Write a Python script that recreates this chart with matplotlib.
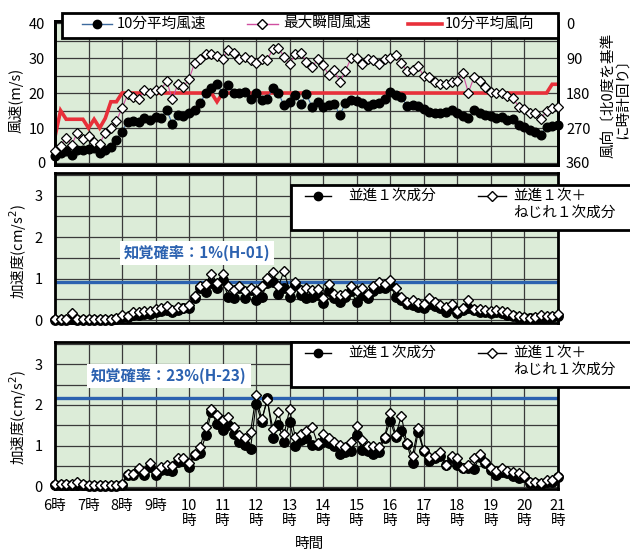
import numpy as np
import matplotlib.pyplot as plt
from matplotlib.patches import Rectangle
from matplotlib.lines import Line2D
from matplotlib.transforms import Affine2D

plt.rcParams['font.family'] = ['Noto Sans CJK JP', 'DejaVu Sans']

# 10-minute samples, 6:00 - 21:00
minutes = np.arange(0, 910, 10)
hours = 6 + minutes / 60

# top panel: wind
wind_speed = [1.9, 2.8, 3.3, 2.4, 3.6, 3.8,
              4.1, 4.3, 3.0, 3.6, 4.7, 6.6,
              9.0, 11.8, 12.0, 11.6, 12.8, 12.3,
              13.1, 12.8, 15.2, 11.1, 13.7, 13.3,
              14.2, 15.2, 17.1, 20.1, 21.5, 22.5,
              19.9, 22.3, 19.9, 20.1, 20.3, 18.3,
              19.9, 18.0, 18.4, 21.3, 19.9, 16.5,
              17.5, 19.4, 16.9, 19.6, 16.1, 17.5,
              15.9, 16.6, 16.9, 13.7, 17.1, 18.0,
              17.8, 17.1, 16.3, 16.9, 17.1, 18.2,
              20.4, 19.4, 19.0, 16.3, 16.6, 16.3,
              15.4, 14.7, 14.2, 14.2, 14.7, 15.2,
              14.2, 13.5, 12.8, 15.2, 14.4, 13.7,
              13.3, 12.8, 13.1, 12.3, 12.5, 10.9,
              10.4, 9.5, 9.0, 8.1, 10.4, 10.6,
              10.9]
gust_speed = [3.3, 5.0, 7.1, 5.2, 8.7, 6.8,
              7.6, 5.9, 5.5, 8.7, 10.0, 12.1,
              15.6, 19.6, 19.0, 18.2, 20.9, 19.9,
              20.9, 21.0, 23.4, 18.2, 22.6, 21.8,
              24.0, 28.6, 29.6, 31.1, 31.1, 30.5,
              29.6, 32.4, 31.3, 29.6, 30.3, 29.4,
              28.6, 29.6, 29.4, 32.7, 33.0, 30.3,
              28.2, 31.1, 31.5, 28.9, 27.3, 29.6,
              28.0, 25.1, 26.5, 23.2, 26.4, 29.9,
              30.1, 28.4, 29.6, 29.4, 28.4, 29.6,
              29.9, 31.0, 28.6, 26.4, 26.5, 27.7,
              24.8, 24.5, 23.2, 22.6, 22.6, 23.2,
              23.4, 25.6, 20.1, 24.5, 23.4, 21.6,
              20.4, 20.1, 20.1, 19.1, 18.5, 16.1,
              15.4, 14.2, 14.2, 12.6, 14.9, 15.6,
              15.9]
wind_dir = ([292.5, 225, 247.5, 247.5, 247.5, 247.5,
             270, 247.5, 270, 245, 202.5, 202.5]
            + [180] * 17 + [202.5] + [180] * 59 + [157.5, 157.5])

# middle panel: building H-01
h01_trans = [0.01, 0.01, 0.01, 0.02, 0.01, 0.01, 0.01, 0.01, 0.01, 0.01, 0.01, 0.02,
             0.07, 0.07, 0.12, 0.12, 0.14, 0.14,
             0.19, 0.22, 0.24, 0.20, 0.24, 0.28,
             0.30, 0.52, 0.77, 0.67, 0.90, 0.77,
             0.97, 0.56, 0.52, 0.77, 0.52, 0.73,
             0.48, 0.56, 0.89, 0.93, 0.62, 0.77,
             0.56, 0.85, 0.60, 0.54, 0.56, 0.60,
             0.40, 0.69, 0.54, 0.44, 0.56, 0.69,
             0.44, 0.60, 0.52, 0.69, 0.77, 0.77,
             0.85, 0.56, 0.48, 0.38, 0.36, 0.32,
             0.28, 0.38, 0.35, 0.28, 0.20, 0.28,
             0.16, 0.24, 0.28, 0.24, 0.20, 0.19,
             0.16, 0.19, 0.16, 0.12, 0.10, 0.06,
             0.04, 0.04, 0.06, 0.06, 0.06, 0.07,
             0.10]
h01_total = [0.03, 0.03, 0.03, 0.16, 0.03, 0.03, 0.03, 0.03, 0.03, 0.03, 0.03, 0.06,
             0.12, 0.10, 0.19, 0.19, 0.22, 0.22,
             0.27, 0.30, 0.35, 0.24, 0.32, 0.28,
             0.36, 0.59, 0.83, 0.88, 1.12, 0.90,
             1.10, 0.81, 0.73, 0.83, 0.70, 0.77,
             0.69, 0.81, 1.01, 1.17, 0.81, 1.19,
             0.69, 0.93, 0.73, 0.77, 0.73, 0.75,
             0.54, 0.86, 0.62, 0.60, 0.62, 0.81,
             0.69, 0.77, 0.62, 0.81, 0.93, 0.86,
             0.97, 0.78, 0.56, 0.44, 0.48, 0.40,
             0.38, 0.52, 0.44, 0.36, 0.32, 0.38,
             0.22, 0.30, 0.48, 0.27, 0.27, 0.24,
             0.22, 0.24, 0.22, 0.19, 0.12, 0.10,
             0.08, 0.06, 0.08, 0.12, 0.10, 0.10,
             0.14]
h01_limit = 0.93

# bottom panel: building H-23
h23_trans = [0.03, 0.03, 0.03, 0.03, 0.05, 0.03, 0.02, 0.02, 0.02, 0.02, 0.02, 0.02, 0.03,
             0.28, 0.28, 0.41, 0.28, 0.49,
             0.28, 0.41, 0.41, 0.38, 0.59, 0.63,
             0.49, 0.77, 0.83, 1.26, 1.83, 1.53,
             1.38, 1.52, 1.28, 1.10, 1.02, 0.93,
             2.03, 1.59, 2.17, 1.20, 1.52, 1.10,
             1.59, 1.00, 1.14, 1.18, 1.03, 1.03,
             1.10, 1.08, 1.00, 0.81, 0.85, 0.87,
             1.26, 0.89, 0.87, 0.79, 0.85, 1.20,
             1.60, 1.22, 1.36, 1.04, 0.57, 1.33,
             0.87, 0.63, 0.69, 0.76, 0.53, 0.71,
             0.53, 0.45, 0.45, 0.43, 0.73, 0.57,
             0.41, 0.28, 0.35, 0.33, 0.25, 0.22,
             0.24, 0.08, 0.08, 0.06, 0.12, 0.12,
             0.24]
h23_total = [0.06, 0.06, 0.06, 0.06, 0.11, 0.07, 0.04, 0.04, 0.04, 0.04, 0.04, 0.04, 0.06,
             0.30, 0.30, 0.45, 0.35, 0.57,
             0.35, 0.49, 0.53, 0.51, 0.71, 0.71,
             0.57, 0.79, 0.98, 1.46, 1.89, 1.75,
             1.63, 1.71, 1.46, 1.26, 1.20, 1.33,
             2.24, 1.65, 2.11, 1.42, 1.83, 1.28,
             1.89, 1.22, 1.28, 1.36, 1.46, 1.06,
             1.30, 1.18, 1.10, 1.03, 0.98, 1.10,
             1.49, 1.14, 1.00, 1.00, 0.98, 1.22,
             1.81, 1.26, 1.73, 1.06, 0.76, 1.44,
             0.89, 0.73, 0.76, 0.85, 0.53, 0.76,
             0.71, 0.46, 0.54, 0.71, 0.81, 0.59,
             0.46, 0.38, 0.45, 0.38, 0.35, 0.33,
             0.27, 0.12, 0.12, 0.08, 0.16, 0.16,
             0.27]
h23_limit = 2.17

hour_ticks = list(range(6, 22))
hour_labels = ['6時', '7時', '8時', '9時'] + [f'{h}\n時' for h in range(10, 22)]

BG = '#dcecd8'
GRID = '#3a3a3a'
BLUE = '#2c62b0'
FS = 10.5

W, H = 630, 551
fig = plt.figure(figsize=(W / 100, H / 100), dpi=100)
px = Affine2D().scale(1 / W, -1 / H).translate(0, 1) + fig.transFigure


def frame(ax):
    for s in ax.spines.values():
        s.set_linewidth(2)
        s.set_color('black')
    ax.tick_params(length=0, labelsize=FS)
    ax.set_xlim(6, 21)
    ax.set_xticks(hour_ticks)


# ---- top panel ----
ax1r = fig.add_axes([0.0873, 0.701, 0.798, 0.2604])
ax1 = fig.add_axes([0.0873, 0.701, 0.798, 0.2604], sharex=ax1r)
ax1.set_zorder(ax1r.get_zorder() + 1)
ax1.patch.set_visible(False)
ax1r.set_facecolor(BG)
frame(ax1r)
frame(ax1)
ax1r.set_ylim(364.5, -4.5)
ax1r.set_yticks([0, 90, 180, 270, 360])
ax1r.set_yticks([45, 135, 225, 315], minor=True)
ax1r.yaxis.tick_right()
ax1r.tick_params(axis='y', which='both', length=0, pad=6)
ax1r.grid(True, which='both', color=GRID, lw=0.9)
ax1r.set_xticklabels([])
ax1r.plot(hours, wind_dir, color='#e8303a', lw=2.6, solid_joinstyle='miter')

ax1.set_ylim(-0.5, 40.5)
ax1.set_yticks([0, 10, 20, 30, 40])
ax1.tick_params(axis='y', pad=7)
ax1.tick_params(axis='x', labelbottom=False)
ax1.plot(hours, wind_speed, color='#3d6a9e', lw=0.8, marker='o', ms=6.2,
         mfc='black', mec='black', clip_on=False, zorder=4)
ax1.plot(hours, gust_speed, color='#d04ea0', lw=0.8, marker='D', ms=4.6,
         mfc='white', mec='black', mew=0.9, clip_on=False, zorder=5)

# ---- acceleration panels ----
ax2 = fig.add_axes([0.0873, 0.4147, 0.798, 0.2713])
ax3 = fig.add_axes([0.0873, 0.1125, 0.798, 0.2673])
for ax, trans, total, limit in [(ax2, h01_trans, h01_total, h01_limit),
                                (ax3, h23_trans, h23_total, h23_limit)]:
    ax.set_facecolor(BG)
    frame(ax)
    ax.set_ylim(-0.06, 3.55)
    ax.set_yticks([0, 1, 2, 3])
    ax.set_yticks([0.5, 1.5, 2.5, 3.5], minor=True)
    ax.tick_params(axis='y', which='both', length=0, pad=9)
    ax.grid(True, which='both', color=GRID, lw=0.9)
    ax.set_axisbelow(True)
    ax.axhline(limit, color=BLUE, lw=2.4, zorder=2)
    ax.plot(hours, trans, color='black', lw=0.8, marker='o', ms=6.8,
            mfc='black', mec='black', clip_on=False, zorder=3)
    ax.plot(hours, total, color='black', lw=0.8, marker='D', ms=5,
            mfc='white', mec='black', mew=1.0, clip_on=False, zorder=4)

ax2.tick_params(axis='x', labelbottom=False)
ax3.set_xticklabels(hour_labels, fontsize=FS, linespacing=1.15)
ax3.tick_params(axis='x', pad=7)

# ---- axis titles ----
fig.text(16, 100, '風速(m/s)', transform=px, rotation=90, ha='center', va='center', fontsize=FS)
fig.text(18, 252, '加速度(cm/s$^2$)', transform=px, rotation=90, ha='center', va='center', fontsize=FS)
fig.text(18, 418, '加速度(cm/s$^2$)', transform=px, rotation=90, ha='center', va='center', fontsize=FS)
fig.text(615, 95, '風向〔北0度を基準\nに時計回り〕', transform=px, rotation=90,
         ha='center', va='center', ma='center', linespacing=1.05, fontsize=FS)
fig.text(310, 544, '時間', transform=px, ha='center', va='center', fontsize=FS)

# ---- perception probability labels ----
fig.text(197, 253, '知覚確率：1%(H-01)', transform=px, ha='center', va='center',
         fontsize=11, fontweight='bold', color=BLUE,
         bbox=dict(fc='white', ec='none', pad=3))
fig.text(169, 376, '知覚確率：23%(H-23)', transform=px, ha='center', va='center',
         fontsize=11, fontweight='bold', color=BLUE,
         bbox=dict(fc='white', ec='none', pad=3))

# ---- top legend ----
fig.add_artist(Rectangle((62, 13), 496, 25, transform=px, fc='white', ec='black', lw=2, zorder=5))
fig.add_artist(Line2D([82, 97, 112], [24, 24, 24], transform=px, color='#3d6a9e', lw=1,
                      marker='o', ms=6, mfc='black', mec='black', markevery=[1], zorder=6))
fig.text(117, 24, '10分平均風速', transform=px, va='center', fontsize=FS, zorder=6)
fig.add_artist(Line2D([247, 262, 278], [24, 24, 24], transform=px, color='#d04ea0', lw=1,
                      marker='D', ms=4.6, mfc='white', mec='black', markevery=[1], zorder=6))
fig.text(283, 24, '最大瞬間風速', transform=px, va='center', fontsize=FS, zorder=6)
fig.add_artist(Line2D([408, 442], [24, 24], transform=px, color='#e8303a', lw=2.6, zorder=6))
fig.text(445, 24, '10分平均風向', transform=px, va='center', fontsize=FS, zorder=6)

# ---- acceleration legends ----
for top in (185, 342):
    r1, r2 = top + 11, top + 28
    fig.add_artist(Rectangle((291, top), 360, 45, transform=px, fc='white', ec='black', lw=2, zorder=5))
    fig.add_artist(Line2D([305, 318, 331], [r1] * 3, transform=px, color='black', lw=1,
                          marker='o', ms=6, mfc='black', mec='black', markevery=[1], zorder=6))
    fig.text(348, r1, '並進１次成分', transform=px, va='center', fontsize=FS, zorder=6)
    fig.add_artist(Line2D([478, 492, 506], [r1] * 3, transform=px, color='black', lw=1,
                          marker='D', ms=4.6, mfc='white', mec='black', markevery=[1], zorder=6))
    fig.text(513, r1, '並進１次＋', transform=px, va='center', fontsize=FS, zorder=6)
    fig.text(513, r2, 'ねじれ１次成分', transform=px, va='center', fontsize=FS, zorder=6)

fig.savefig('out.png', dpi=100)
